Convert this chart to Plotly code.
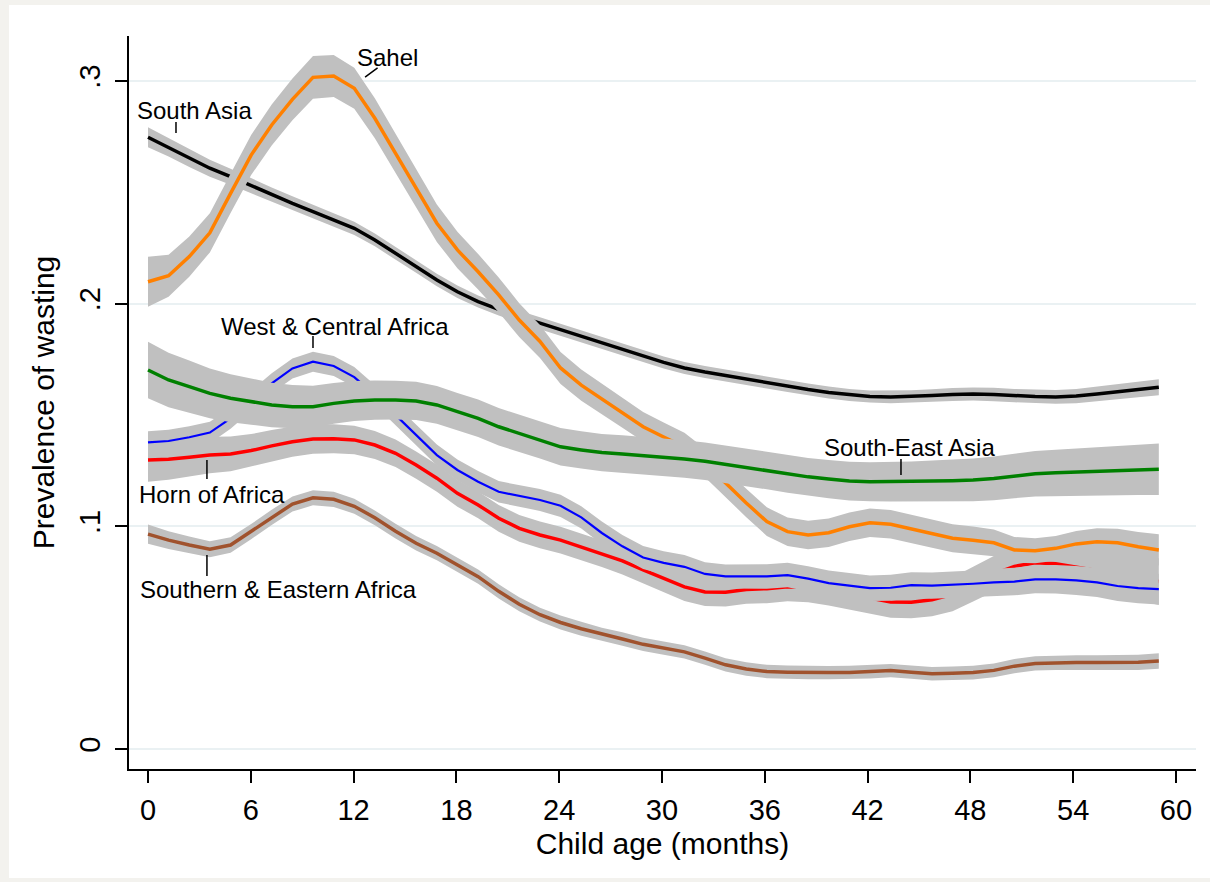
import plotly.graph_objects as go

# Evaluation grid (child age in months)
months = [0.00, 1.20, 2.41, 3.61, 4.82, 6.02, 7.22, 8.43, 9.63, 10.84,
          12.04, 13.24, 14.45, 15.65, 16.86, 18.06, 19.27, 20.47, 21.67, 22.88,
          24.08, 25.29, 26.49, 27.69, 28.90, 30.10, 31.31, 32.51, 33.71, 34.92,
          36.12, 37.33, 38.53, 39.73, 40.94, 42.14, 43.35, 44.55, 45.76, 46.96,
          48.16, 49.37, 50.57, 51.78, 52.98, 54.18, 55.39, 56.59, 57.80, 59.00]

# Smoothed prevalence of wasting by region
south_asia = [0.2747, 0.2702, 0.2653, 0.2608, 0.2570, 0.2529, 0.2488, 0.2450, 0.2413, 0.2375,
              0.2338, 0.2286, 0.2226, 0.2166, 0.2106, 0.2053, 0.2009, 0.1974, 0.1941, 0.1912,
              0.1882, 0.1853, 0.1823, 0.1794, 0.1765, 0.1736, 0.1711, 0.1693, 0.1677, 0.1661,
              0.1646, 0.1630, 0.1614, 0.1601, 0.1590, 0.1583, 0.1581, 0.1583, 0.1587, 0.1592,
              0.1594, 0.1592, 0.1587, 0.1583, 0.1581, 0.1585, 0.1594, 0.1603, 0.1614, 0.1624]
horn = [0.1298, 0.1301, 0.1310, 0.1320, 0.1325, 0.1340, 0.1361, 0.1380, 0.1392, 0.1393,
        0.1388, 0.1365, 0.1328, 0.1275, 0.1216, 0.1148, 0.1096, 0.1036, 0.0991, 0.0961,
        0.0938, 0.0908, 0.0878, 0.0845, 0.0804, 0.0766, 0.0728, 0.0705, 0.0704, 0.0716,
        0.0720, 0.0729, 0.0726, 0.0712, 0.0696, 0.0678, 0.0660, 0.0659, 0.0670, 0.0694,
        0.0740, 0.0787, 0.0820, 0.0836, 0.0832, 0.0818, 0.0800, 0.0786, 0.0768, 0.0752]
west_central = [0.1377, 0.1383, 0.1400, 0.1421, 0.1485, 0.1565, 0.1642, 0.1709, 0.1739, 0.1720,
                0.1670, 0.1590, 0.1500, 0.1410, 0.1320, 0.1253, 0.1200, 0.1155, 0.1136, 0.1118,
                0.1092, 0.1040, 0.0970, 0.0910, 0.0860, 0.0836, 0.0818, 0.0786, 0.0775, 0.0774,
                0.0775, 0.0781, 0.0765, 0.0745, 0.0732, 0.0722, 0.0724, 0.0736, 0.0734, 0.0737,
                0.0742, 0.0748, 0.0752, 0.0762, 0.0762, 0.0757, 0.0748, 0.0732, 0.0722, 0.0718]
sahel = [0.2098, 0.2125, 0.2211, 0.2318, 0.2495, 0.2667, 0.2802, 0.2917, 0.3016, 0.3022,
         0.2967, 0.2832, 0.2675, 0.2518, 0.2361, 0.2241, 0.2143, 0.2039, 0.1926, 0.1830,
         0.1711, 0.1634, 0.1572, 0.1509, 0.1447, 0.1401, 0.1356, 0.1284, 0.1194, 0.1105,
         0.1021, 0.0976, 0.0961, 0.0971, 0.0998, 0.1016, 0.1009, 0.0987, 0.0968, 0.0946,
         0.0937, 0.0926, 0.0894, 0.0890, 0.0901, 0.0921, 0.0931, 0.0926, 0.0908, 0.0894]
south_east_asia = [0.1702, 0.1657, 0.1627, 0.1597, 0.1575, 0.1560, 0.1545, 0.1537, 0.1537, 0.1552,
                   0.1563, 0.1567, 0.1567, 0.1563, 0.1545, 0.1515, 0.1485, 0.1447, 0.1418, 0.1388,
                   0.1357, 0.1343, 0.1331, 0.1325, 0.1318, 0.1310, 0.1302, 0.1292, 0.1278, 0.1265,
                   0.1250, 0.1235, 0.1222, 0.1212, 0.1203, 0.1200, 0.1200, 0.1201, 0.1203, 0.1205,
                   0.1208, 0.1215, 0.1226, 0.1236, 0.1240, 0.1243, 0.1245, 0.1249, 0.1253, 0.1256]
south_east_africa = [0.0965, 0.0938, 0.0916, 0.0897, 0.0916, 0.0976, 0.1040, 0.1100, 0.1128, 0.1121,
                     0.1090, 0.1038, 0.0978, 0.0924, 0.0879, 0.0826, 0.0774, 0.0708, 0.0650, 0.0603,
                     0.0568, 0.0540, 0.0515, 0.0494, 0.0470, 0.0453, 0.0436, 0.0408, 0.0378, 0.0359,
                     0.0348, 0.0345, 0.0343, 0.0343, 0.0344, 0.0347, 0.0352, 0.0345, 0.0338, 0.0340,
                     0.0343, 0.0353, 0.0372, 0.0384, 0.0387, 0.0388, 0.0388, 0.0388, 0.0389, 0.0395]

# Half-widths of the 95% confidence bands
ci_south_asia = [0.0045, 0.0042, 0.0040, 0.0038, 0.0036, 0.0034, 0.0033, 0.0032, 0.0031, 0.0030,
                 0.0030, 0.0029, 0.0029, 0.0028, 0.0028, 0.0028, 0.0027, 0.0027, 0.0027, 0.0027,
                 0.0027, 0.0027, 0.0027, 0.0027, 0.0027, 0.0027, 0.0027, 0.0027, 0.0027, 0.0027,
                 0.0027, 0.0027, 0.0027, 0.0027, 0.0027, 0.0027, 0.0028, 0.0028, 0.0028, 0.0029,
                 0.0029, 0.0030, 0.0030, 0.0031, 0.0031, 0.0032, 0.0033, 0.0034, 0.0035, 0.0036]
ci_horn = [0.0098, 0.0092, 0.0087, 0.0082, 0.0078, 0.0074, 0.0071, 0.0068, 0.0066, 0.0065,
           0.0064, 0.0063, 0.0062, 0.0061, 0.0061, 0.0060, 0.0060, 0.0060, 0.0060, 0.0060,
           0.0060, 0.0060, 0.0061, 0.0061, 0.0062, 0.0062, 0.0063, 0.0063, 0.0064, 0.0064,
           0.0065, 0.0066, 0.0067, 0.0068, 0.0069, 0.0070, 0.0071, 0.0072, 0.0074, 0.0076,
           0.0078, 0.0080, 0.0082, 0.0085, 0.0088, 0.0091, 0.0094, 0.0097, 0.0101, 0.0105]
ci_west_central = [0.0050, 0.0050, 0.0049, 0.0048, 0.0047, 0.0046, 0.0045, 0.0045, 0.0045, 0.0045,
                   0.0045, 0.0045, 0.0046, 0.0046, 0.0047, 0.0047, 0.0048, 0.0048, 0.0049, 0.0049,
                   0.0050, 0.0050, 0.0051, 0.0051, 0.0052, 0.0052, 0.0053, 0.0053, 0.0054, 0.0054,
                   0.0055, 0.0055, 0.0056, 0.0056, 0.0057, 0.0057, 0.0058, 0.0058, 0.0059, 0.0059,
                   0.0060, 0.0061, 0.0062, 0.0063, 0.0064, 0.0065, 0.0066, 0.0067, 0.0068, 0.0069]
ci_sahel = [0.0112, 0.0094, 0.0090, 0.0088, 0.0088, 0.0090, 0.0092, 0.0094, 0.0096, 0.0094,
            0.0092, 0.0090, 0.0088, 0.0086, 0.0084, 0.0082, 0.0080, 0.0078, 0.0076, 0.0074,
            0.0072, 0.0070, 0.0068, 0.0067, 0.0066, 0.0065, 0.0064, 0.0064, 0.0064, 0.0064,
            0.0064, 0.0064, 0.0064, 0.0064, 0.0064, 0.0064, 0.0064, 0.0064, 0.0064, 0.0063,
            0.0062, 0.0060, 0.0058, 0.0056, 0.0056, 0.0058, 0.0060, 0.0063, 0.0066, 0.0070]
ci_south_east_asia = [0.0127, 0.0122, 0.0117, 0.0112, 0.0108, 0.0104, 0.0100, 0.0097, 0.0094, 0.0092,
                      0.0090, 0.0088, 0.0087, 0.0086, 0.0085, 0.0084, 0.0084, 0.0084, 0.0084, 0.0084,
                      0.0084, 0.0084, 0.0084, 0.0084, 0.0084, 0.0084, 0.0084, 0.0084, 0.0084, 0.0084,
                      0.0084, 0.0084, 0.0085, 0.0086, 0.0087, 0.0088, 0.0089, 0.0090, 0.0092, 0.0094,
                      0.0096, 0.0098, 0.0100, 0.0102, 0.0104, 0.0106, 0.0108, 0.0110, 0.0113, 0.0116]
ci_south_east_africa = [0.0043, 0.0040, 0.0038, 0.0036, 0.0035, 0.0034, 0.0034, 0.0034, 0.0034, 0.0034,
                        0.0034, 0.0033, 0.0033, 0.0033, 0.0032, 0.0032, 0.0032, 0.0032, 0.0031, 0.0031,
                        0.0031, 0.0031, 0.0030, 0.0030, 0.0030, 0.0030, 0.0030, 0.0030, 0.0030, 0.0030,
                        0.0030, 0.0030, 0.0030, 0.0030, 0.0030, 0.0030, 0.0030, 0.0030, 0.0030, 0.0031,
                        0.0031, 0.0031, 0.0032, 0.0032, 0.0032, 0.0033, 0.0033, 0.0034, 0.0034, 0.0035]

x_ticks = [0, 6, 12, 18, 24, 30, 36, 42, 48, 54, 60]
y_ticks = [0, 0.1, 0.2, 0.3]
y_ticktext = ["0", ".1", ".2", ".3"]

FONT = "Liberation Sans, Arial, Helvetica, sans-serif"
BAND = "#c0c0c0"

# Drawn in this order: each band covers the lines drawn before it
series = [
    (south_asia, ci_south_asia, "#000000", 3.5),
    (horn, ci_horn, "#ff0000", 3.5),
    (west_central, ci_west_central, "#0000ff", 2.2),
    (sahel, ci_sahel, "#ff8000", 3.5),
    (south_east_asia, ci_south_east_asia, "#008000", 3.5),
    (south_east_africa, ci_south_east_africa, "#a0522d", 3.5),
]

fig = go.Figure()
for vals, hw, color, width in series:
    upper = [v + h for v, h in zip(vals, hw)]
    lower = [v - h for v, h in zip(vals, hw)]
    fig.add_trace(go.Scatter(
        x=months + months[::-1], y=upper + lower[::-1],
        fill="toself", fillcolor=BAND, line=dict(width=0, color=BAND),
        mode="lines", hoverinfo="skip", showlegend=False))
    fig.add_trace(go.Scatter(
        x=months, y=vals, mode="lines",
        line=dict(color=color, width=width), showlegend=False))

# Region labels with short leader lines
labels = [
    ("South Asia", 2.74, 0.2865, [(1.634, 0.2815), (1.634, 0.2766)]),
    ("Sahel", 13.95, 0.3105, [(12.67, 0.3017), (13.40, 0.3058)]),
    ("West & Central Africa", 10.91, 0.1899, [(9.63, 0.1855), (9.63, 0.1801)]),
    ("Horn of Africa", 3.74, 0.1145, [(3.44, 0.1298), (3.44, 0.1212)]),
    ("Southern & Eastern Africa", 7.59, 0.0718, [(3.44, 0.0871), (3.44, 0.0777)]),
    ("South-East Asia", 44.42, 0.1352, [(43.95, 0.1302), (43.95, 0.1230)]),
]
for text, lx, ly, seg in labels:
    fig.add_annotation(x=lx, y=ly, text=text, showarrow=False,
                       xanchor="center", yanchor="middle",
                       font=dict(family=FONT, size=24, color="#000000"))
    (x0, y0), (x1, y1) = seg
    fig.add_shape(type="line", x0=x0, y0=y0, x1=x1, y1=y1,
                  line=dict(color="#000000", width=1.5))

# White graph region inside the outer frame
fig.add_shape(type="rect", xref="paper", yref="paper",
              x0=-0.1125, x1=1.02, y0=-0.1487, y1=1.0423,
              fillcolor="#ffffff", line=dict(width=0), layer="below")

fig.update_layout(
    width=1210, height=882,
    margin=dict(l=129, r=14, t=36, b=113),
    paper_bgcolor="#f3f2ee",
    plot_bgcolor="#ffffff",
    font=dict(family=FONT, color="#000000"),
    showlegend=False,
    xaxis=dict(
        range=[-1.109, 61.17], tickvals=x_ticks,
        ticks="outside", ticklen=12, tickwidth=1.5, tickcolor="#000000",
        showline=True, linecolor="#000000", linewidth=1.5,
        showgrid=False, zeroline=False,
        tickfont=dict(size=29), ticklabelstandoff=2,
        title=dict(text="Child age (months)", font=dict(size=30), standoff=8),
    ),
    yaxis=dict(
        range=[-0.00898, 0.32016], tickvals=y_ticks, ticktext=y_ticktext,
        tickangle=-90,
        ticks="outside", ticklen=12, tickwidth=1.5, tickcolor="#000000",
        showline=True, linecolor="#000000", linewidth=1.5,
        showgrid=True, gridcolor="#eaf1f3", gridwidth=2, zeroline=False,
        tickfont=dict(size=29), ticklabelstandoff=4,
        title=dict(text="Prevalence of wasting", font=dict(size=30), standoff=10),
    ),
)

fig.write_html("out.html")
